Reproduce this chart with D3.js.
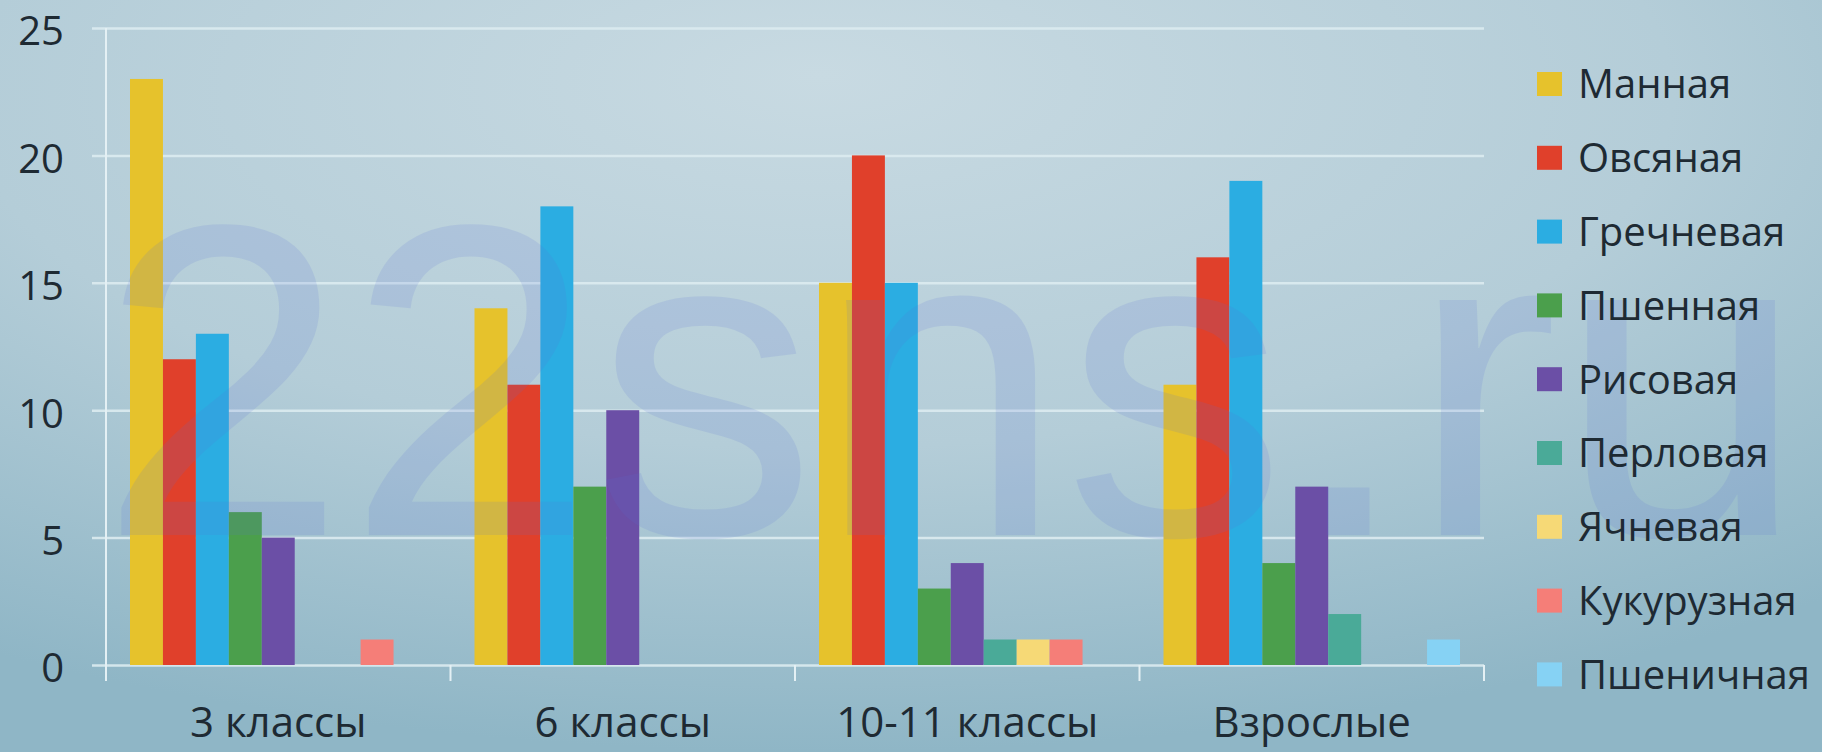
<!DOCTYPE html>
<html><head><meta charset="utf-8">
<script src="https://cdn.jsdelivr.net/npm/d3@7"></script>
<style>html,body{margin:0;padding:0;overflow:hidden;}</style>
</head><body>
<svg id="c" width="1822" height="752"></svg>
<script>
const categories = ["3 классы", "6 классы", "10-11 классы", "Взрослые"];
const seriesNames = ["Манная","Овсяная","Гречневая","Пшенная","Рисовая","Перловая","Ячневая","Кукурузная","Пшеничная"];
const manna   = [23, 14, 15, 11];
const ovsyan  = [12, 11, 20, 16];
const grechn  = [13, 18, 15, 19];
const pshenn  = [6, 7, 3, 4];
const risov   = [5, 10, 4, 7];
const perlov  = [0, 0, 1, 2];
const yachn   = [0, 0, 1, 0];
const kukuruz = [1, 0, 1, 0];
const pshenich= [0, 0, 0, 1];
const yTicks = [0, 5, 10, 15, 20, 25];
const colors = ["#e6c22c","#e0402b","#2badE2","#4b9f4c","#6b4fa6","#4aaa98","#f6d976","#f57e78","#86d2f4"];

const seriesValues = [manna, ovsyan, grechn, pshenn, risov, perlov, yachn, kukuruz, pshenich];

(function(){
const svg = d3.select("#c");
const W = 1822, H = 752;
const defs = svg.append("defs");
const rg = defs.append("radialGradient").attr("id","bg")
  .attr("cx","0.45").attr("cy","0.15").attr("r","0.85").attr("fx","0.45").attr("fy","0.1");
rg.append("stop").attr("offset","0").attr("stop-color","#c8dae2");
rg.append("stop").attr("offset","0.55").attr("stop-color","#b4cdd8");
rg.append("stop").attr("offset","1").attr("stop-color","#8fb6c6");
svg.append("rect").attr("width",W).attr("height",H).attr("fill","url(#bg)");

const pL = 106, pR = 1484, pT = 28, pB = 665;
const x0 = d3.scaleBand().domain(categories).range([pL, pR]).padding(0);
const inset = 24;
const x1 = d3.scaleBand().domain(seriesNames).range([inset, x0.bandwidth() - inset]).padding(0);
const y = d3.scaleLinear().domain([0, 25]).range([pB, pT]);

// gridlines + y ticks
const yAxis = d3.axisLeft(y).tickValues(yTicks).tickSize(-(pR - pL)).tickSizeOuter(0).tickFormat(d => d);
const gy = svg.append("g").attr("transform", `translate(${pL},0)`).call(yAxis);
gy.select(".domain").remove();
gy.selectAll(".tick line").attr("x1", -14).attr("stroke", "#dcebf0").attr("stroke-width", 2.5).attr("opacity", 0.9);
gy.selectAll(".tick text").attr("x", -42).attr("dy", "0.42em")
  .attr("font-family", "Open Sans, Noto Sans, sans-serif").attr("font-size", 40).attr("fill", "#1e2a33");

// y axis line
svg.append("line").attr("x1", pL).attr("x2", pL).attr("y1", pT).attr("y2", pB + 16)
  .attr("stroke", "#e4f0f4").attr("stroke-width", 2);

// x axis
const xAxis = d3.axisBottom(x0).tickSize(0).tickSizeOuter(0);
const gx = svg.append("g").attr("transform", `translate(0,${pB})`).call(xAxis);
gx.select(".domain").remove();
gx.selectAll(".tick text").attr("y", 72).attr("dy", 0)
  .attr("font-family", "Open Sans, Noto Sans, sans-serif").attr("font-size", 42).attr("fill", "#1e2a33");
// category separators
const seps = categories.slice(1).map(c => x0(c)).concat([pR]);
svg.append("g").selectAll("line").data(seps)
  .join("line")
  .attr("x1", d => d).attr("x2", d => d)
  .attr("y1", pB).attr("y2", pB + 16)
  .attr("stroke", "#e4f0f4").attr("stroke-width", 2);

// bars
const groups = svg.append("g").selectAll("g").data(categories).join("g")
  .attr("transform", d => `translate(${x0(d)},0)`);
groups.selectAll("rect")
  .data((c) => seriesNames.map((s, si) => ({ s, si, v: seriesValues[si][categories.indexOf(c)] })))
  .join("rect")
  .attr("x", d => x1(d.s))
  .attr("width", x1.bandwidth())
  .attr("y", d => y(d.v))
  .attr("height", d => y(0) - y(d.v))
  .attr("fill", d => colors[d.si]);

// watermark
svg.append("text").text("22sns.ru")
  .attr("x", 99).attr("y", 535)
  .attr("font-family", "Liberation Sans, Arial, sans-serif").attr("font-size", 445)
  .attr("fill", "#5a6fd6").attr("opacity", 0.14);

// legend
const legend = svg.append("g").selectAll("g").data(seriesNames).join("g")
  .attr("transform", (d, i) => `translate(1537,${84 + i * 73.8})`);
legend.append("rect").attr("x", 0).attr("y", -12).attr("width", 25).attr("height", 24)
  .attr("fill", (d, i) => colors[i]);
legend.append("text").text(d => d).attr("x", 41).attr("y", 0).attr("dy", "0.36em")
  .attr("font-family", "Open Sans, Noto Sans, sans-serif").attr("font-size", 40).attr("fill", "#1e2a33");
})();
</script>
</body></html>
